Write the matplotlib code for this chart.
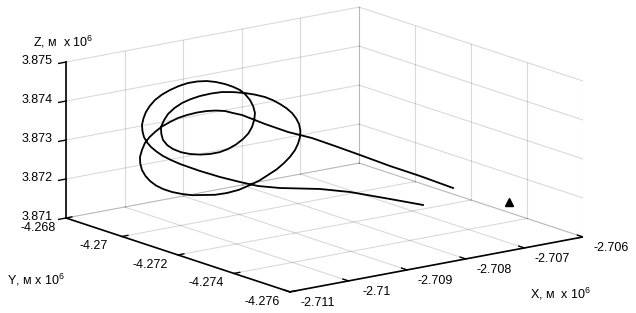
import numpy as np
import matplotlib
matplotlib.use('Agg')
import matplotlib.pyplot as plt
from mpl_toolkits.mplot3d import proj3d

plt.rcParams['font.family'] = ['Liberation Sans', 'DejaVu Sans']
plt.rcParams['mathtext.fontset'] = 'custom'
plt.rcParams['mathtext.rm'] = 'Liberation Sans'

# axis ticks, x 10^6 m
x_ticks = [-2.711, -2.710, -2.709, -2.708, -2.707, -2.706]
y_ticks = [-4.276, -4.274, -4.272, -4.270, -4.268]
z_ticks = [3.871, 3.872, 3.873, 3.874, 3.875]

# trajectory, metres relative to the corner (x0, y0, z0)
x0, y0, z0 = -2711000, -4276000, 3871000
dx_m = [4311, 3929, 3598, 3267, 2991, 2737, 2473, 2219, 1857, 1703,
        1567, 1413, 1259, 1089, 918, 765, 628, 491, 372, 278,
        201, 150, 116, 121, 150, 210, 287, 389, 509, 662,
        833, 1012, 1191, 1396, 1601, 1805, 1993, 2155, 2252, 2346,
        2429, 2495, 2550, 2583, 2605, 2609, 2594, 2561, 2517, 2456,
        2384, 2307, 2219, 2078, 1908, 1712, 1515, 1328, 1140, 978,
        833, 705, 594, 526, 474, 480, 509, 582, 679, 816,
        969, 1140, 1311, 1473, 1618, 1754, 1874, 1964, 2027, 2065,
        2078, 2048, 1993, 1916, 1823, 1700, 1567, 1413, 1259, 1097,
        935, 778, 628, 491, 372, 287, 218, 176, 150, 159,
        184, 235, 304, 403, 509, 645, 799, 969, 1140, 1311,
        1481, 1823, 2130, 2384, 2605, 2826, 3156, 3598, 3962]
dy_m = [3200, 3579, 3958, 4337, 4653, 4943, 5246, 5537, 5600, 5600,
        5600, 5600, 5600, 5600, 5600, 5600, 5600, 5600, 5600, 5600,
        5600, 5600, 5600, 5600, 5600, 5600, 5600, 5600, 5600, 5600,
        5600, 5600, 5600, 5600, 5600, 5600, 5600, 5600, 5499, 5392,
        5297, 5221, 5158, 5120, 5095, 5090, 5107, 5145, 5196, 5265,
        5347, 5436, 5537, 5600, 5600, 5600, 5600, 5600, 5600, 5600,
        5600, 5600, 5600, 5600, 5600, 5600, 5600, 5600, 5600, 5600,
        5600, 5600, 5600, 5600, 5600, 5600, 5600, 5600, 5600, 5600,
        5600, 5600, 5600, 5600, 5600, 5600, 5600, 5600, 5600, 5600,
        5600, 5600, 5600, 5600, 5600, 5600, 5600, 5600, 5600, 5600,
        5600, 5600, 5600, 5600, 5600, 5600, 5600, 5600, 5600, 5600,
        5600, 5600, 5600, 5347, 5095, 4842, 4463, 3958, 3541]
dz_m = [692, 1017, 1277, 1563, 1796, 2004, 2161, 2369, 2687, 2781,
        2871, 2927, 2958, 2967, 2951, 2918, 2854, 2777, 2669, 2563,
        2436, 2270, 2101, 1932, 1758, 1587, 1437, 1293, 1169, 1049,
        950, 868, 823, 770, 759, 783, 853, 923, 1061, 1201,
        1366, 1525, 1698, 1860, 2031, 2198, 2365, 2514, 2648, 2771,
        2880, 2978, 3061, 3147, 3236, 3315, 3373, 3387, 3376, 3340,
        3283, 3191, 3068, 2926, 2769, 2593, 2426, 2272, 2147, 2026,
        1937, 1873, 1841, 1841, 1882, 1959, 2066, 2182, 2331, 2500,
        2675, 2856, 3033, 3193, 3337, 3457, 3563, 3658, 3727, 3762,
        3767, 3734, 3674, 3595, 3490, 3368, 3226, 3076, 2911, 2750,
        2594, 2444, 2304, 2153, 2016, 1874, 1729, 1591, 1453, 1328,
        1203, 978, 789, 726, 711, 696, 615, 431, 274]

# ground station (triangle)
station_dx_m = [4885]
station_dy_m = [2400]
station_dz_m = [362]

traj_x = (x0 + np.array(dx_m)) / 1e6
traj_y = (y0 + np.array(dy_m)) / 1e6
traj_z = (z0 + np.array(dz_m)) / 1e6
st_x = (x0 + np.array(station_dx_m)) / 1e6
st_y = (y0 + np.array(station_dy_m)) / 1e6
st_z = (z0 + np.array(station_dz_m)) / 1e6

xmin, xmax = x_ticks[0], x_ticks[-1]
ymin, ymax = y_ticks[0], y_ticks[-1]
zmin, zmax = z_ticks[0], z_ticks[-1]
xr, yr, zr = xmax-xmin, ymax-ymin, zmax-zmin

W, H = 636, 313
fig = plt.figure(figsize=(W/100, H/100), dpi=100)
fig.patch.set_facecolor('white')
ax = fig.add_axes([0.1, 0.0, 300/W, 300/H], projection='3d', proj_type='ortho')
ax.set_axis_off()
ax.computed_zorder = False
ax.view_init(elev=14.4, azim=-127)
ax.set_box_aspect((367, 372, 161))
ax.set_xlim(xmin, xmax)
ax.set_ylim(ymin, ymax)
ax.set_zlim(zmin, zmax)

# grid on floor and the two back walls
gk = dict(color='k', alpha=0.15, lw=0.8, zorder=1)
for x in x_ticks:
    ax.plot([x, x], [ymin, ymax], [zmin, zmin], **gk)
    ax.plot([x, x], [ymax, ymax], [zmin, zmax], **gk)
for y in y_ticks:
    ax.plot([xmin, xmax], [y, y], [zmin, zmin], **gk)
    ax.plot([xmax, xmax], [y, y], [zmin, zmax], **gk)
for z in z_ticks:
    ax.plot([xmin, xmax], [ymax, ymax], [z, z], **gk)
    ax.plot([xmax, xmax], [ymin, ymax], [z, z], **gk)

# axis lines and tick marks
ak = dict(color='k', lw=1.2, zorder=2)
ax.plot([xmin, xmax], [ymin, ymin], [zmin, zmin], **ak)
ax.plot([xmin, xmin], [ymin, ymax], [zmin, zmin], **ak)
ax.plot([xmin, xmin], [ymax, ymax], [zmin, zmax], **ak)
for x in x_ticks:
    ax.plot([x, x], [ymin, ymin+0.025*yr], [zmin, zmin], color='k', lw=1, zorder=2)
for y in y_ticks:
    ax.plot([xmin, xmin+0.02*xr], [y, y], [zmin, zmin], color='k', lw=1, zorder=2)
for z in z_ticks:
    ax.plot([xmin, xmin-0.025*xr], [ymax, ymax], [z, z], color='k', lw=1, zorder=2)

ax.plot(traj_x, traj_y, traj_z, color='k', lw=1.3, zorder=3)
ax.plot(st_x, st_y, st_z, marker='^', color='k', ms=6, ls='none', zorder=4)

def to_px(x, y, z):
    xs, ys, _ = proj3d.proj_transform(x, y, z, ax.get_proj())
    return ax.transData.transform((xs, ys))

# scale/shift the axes so the box corners land where the reference has them
fig.canvas.draw()
left = to_px(xmin, ymax, zmin)
right = to_px(xmax, ymin, zmin)
bb = ax.get_position()
c0 = np.array([(bb.x0+bb.x1)/2*W, (bb.y0+bb.y1)/2*H])
f = (583-66)/(right[0]-left[0])
c1 = np.array([66, H-218]) - f*(left-c0)
s1 = f*bb.width*W
ax.set_position([(c1[0]-s1/2)/W, (c1[1]-s1/2)/H, s1/W, s1/H])
fig.canvas.draw()

fs = 9
for x in x_ticks:
    p = to_px(x, ymin, zmin)
    fig.text((p[0]+28)/W, (p[1]-11)/H, f'{x:g}', ha='center', va='center', fontsize=fs)
for y in y_ticks:
    p = to_px(xmin, y, zmin)
    fig.text((p[0]-28)/W, (p[1]-10)/H, f'{y:g}', ha='center', va='center', fontsize=fs)
for z in z_ticks:
    p = to_px(xmin, ymax, z)
    fig.text((p[0]-13)/W, (p[1]+1)/H, f'{z:g}', ha='right', va='center', fontsize=fs)

fig.text(33/W, (H-47)/H, 'Z, м  x 10$^{\\mathrm{6}}$', fontsize=fs, ha='left', va='baseline')
fig.text(7/W, (H-285)/H, 'Y, м x 10$^{\\mathrm{6}}$', fontsize=fs, ha='left', va='baseline')
fig.text(530/W, (H-298)/H, 'X, м  x 10$^{\\mathrm{6}}$', fontsize=fs, ha='left', va='baseline')

fig.savefig('out.png', dpi=100, facecolor='white')
